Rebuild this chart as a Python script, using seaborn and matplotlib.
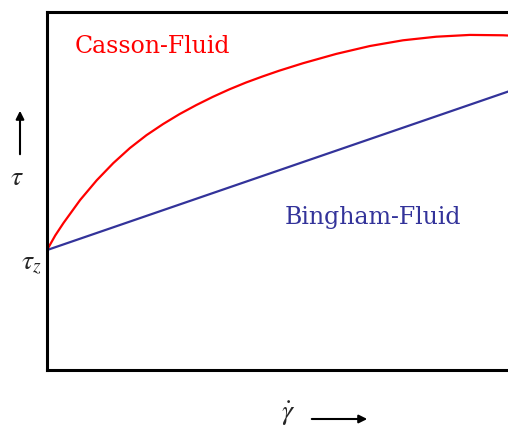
import matplotlib
matplotlib.use("Agg")
import matplotlib.pyplot as plt
import numpy as np
import pandas as pd
import seaborn as sns

# shear rate (0..100 across the visible frame) and shear stress (0..100)
casson_rate = [0, 1.8, 3.6, 7.2, 10.8, 14.4, 18.0, 21.6, 25.2, 28.8, 32.4,
               36.0, 39.6, 43.2, 46.8, 50.4, 55.6, 62.8, 70.1, 77.3, 84.5,
               91.8, 99.0, 104]
casson_stress = [33.5, 37.6, 41.1, 47.5, 53.0, 57.8, 62.0, 65.6, 68.7, 71.5,
                 74.0, 76.3, 78.4, 80.3, 82.0, 83.6, 85.7, 88.3, 90.5, 92.1,
                 93.1, 93.6, 93.5, 93.2]
bingham_rate = [0, 104]
bingham_stress = [33.5, 79.5]

sns.set_style("white")
plt.rcParams['font.family'] = ['DejaVu Serif']
plt.rcParams['mathtext.fontset'] = 'stix'

fig = plt.figure(figsize=(5.08, 4.32), dpi=100)
ax = fig.add_axes([0.0925, 0.1435, 0.943, 0.8287])

casson = pd.DataFrame({"rate": casson_rate, "stress": casson_stress})
bingham = pd.DataFrame({"rate": bingham_rate, "stress": bingham_stress})
sns.lineplot(data=casson, x="rate", y="stress", ax=ax, color="#ff0000",
             linewidth=1.6, sort=False)
sns.lineplot(data=bingham, x="rate", y="stress", ax=ax, color="#33339a",
             linewidth=1.6, sort=False)

ax.set_xlim(0, 104)
ax.set_ylim(0, 100)
ax.set_xticks([])
ax.set_yticks([])
ax.set_xlabel("")
ax.set_ylabel("")
for s in ax.spines.values():
    s.set_visible(True)
    s.set_color("black")
    s.set_linewidth(2.2)

ax.text(6, 90.5, "Casson-Fluid", color="#ff0000", fontsize=17,
        va="center", ha="left")
ax.text(51.5, 42.5, "Bingham-Fluid", color="#33339a", fontsize=17,
        va="center", ha="left")

# axis symbols and arrows drawn in figure coordinates
fig.text(17 / 508, 1 - 178 / 432, r"$\tau$", fontsize=20, ha="center",
         va="center")
fig.text(31 / 508, 1 - 262 / 432, r"$\tau_z$", fontsize=20, ha="center",
         va="center")
fig.text(288 / 508, 1 - 414 / 432, r"$\dot{\gamma}$", fontsize=20,
         ha="center", va="center")
fig.add_artist(matplotlib.patches.FancyArrowPatch(
    (20 / 508, 1 - 157 / 432), (20 / 508, 1 - 108 / 432),
    transform=fig.transFigure, arrowstyle="-|>", mutation_scale=12,
    color="black", linewidth=1.5))
fig.add_artist(matplotlib.patches.FancyArrowPatch(
    (309 / 508, 1 - 419 / 432), (370 / 508, 1 - 419 / 432),
    transform=fig.transFigure, arrowstyle="-|>", mutation_scale=12,
    color="black", linewidth=1.5))

fig.savefig("out.png", dpi=100)
